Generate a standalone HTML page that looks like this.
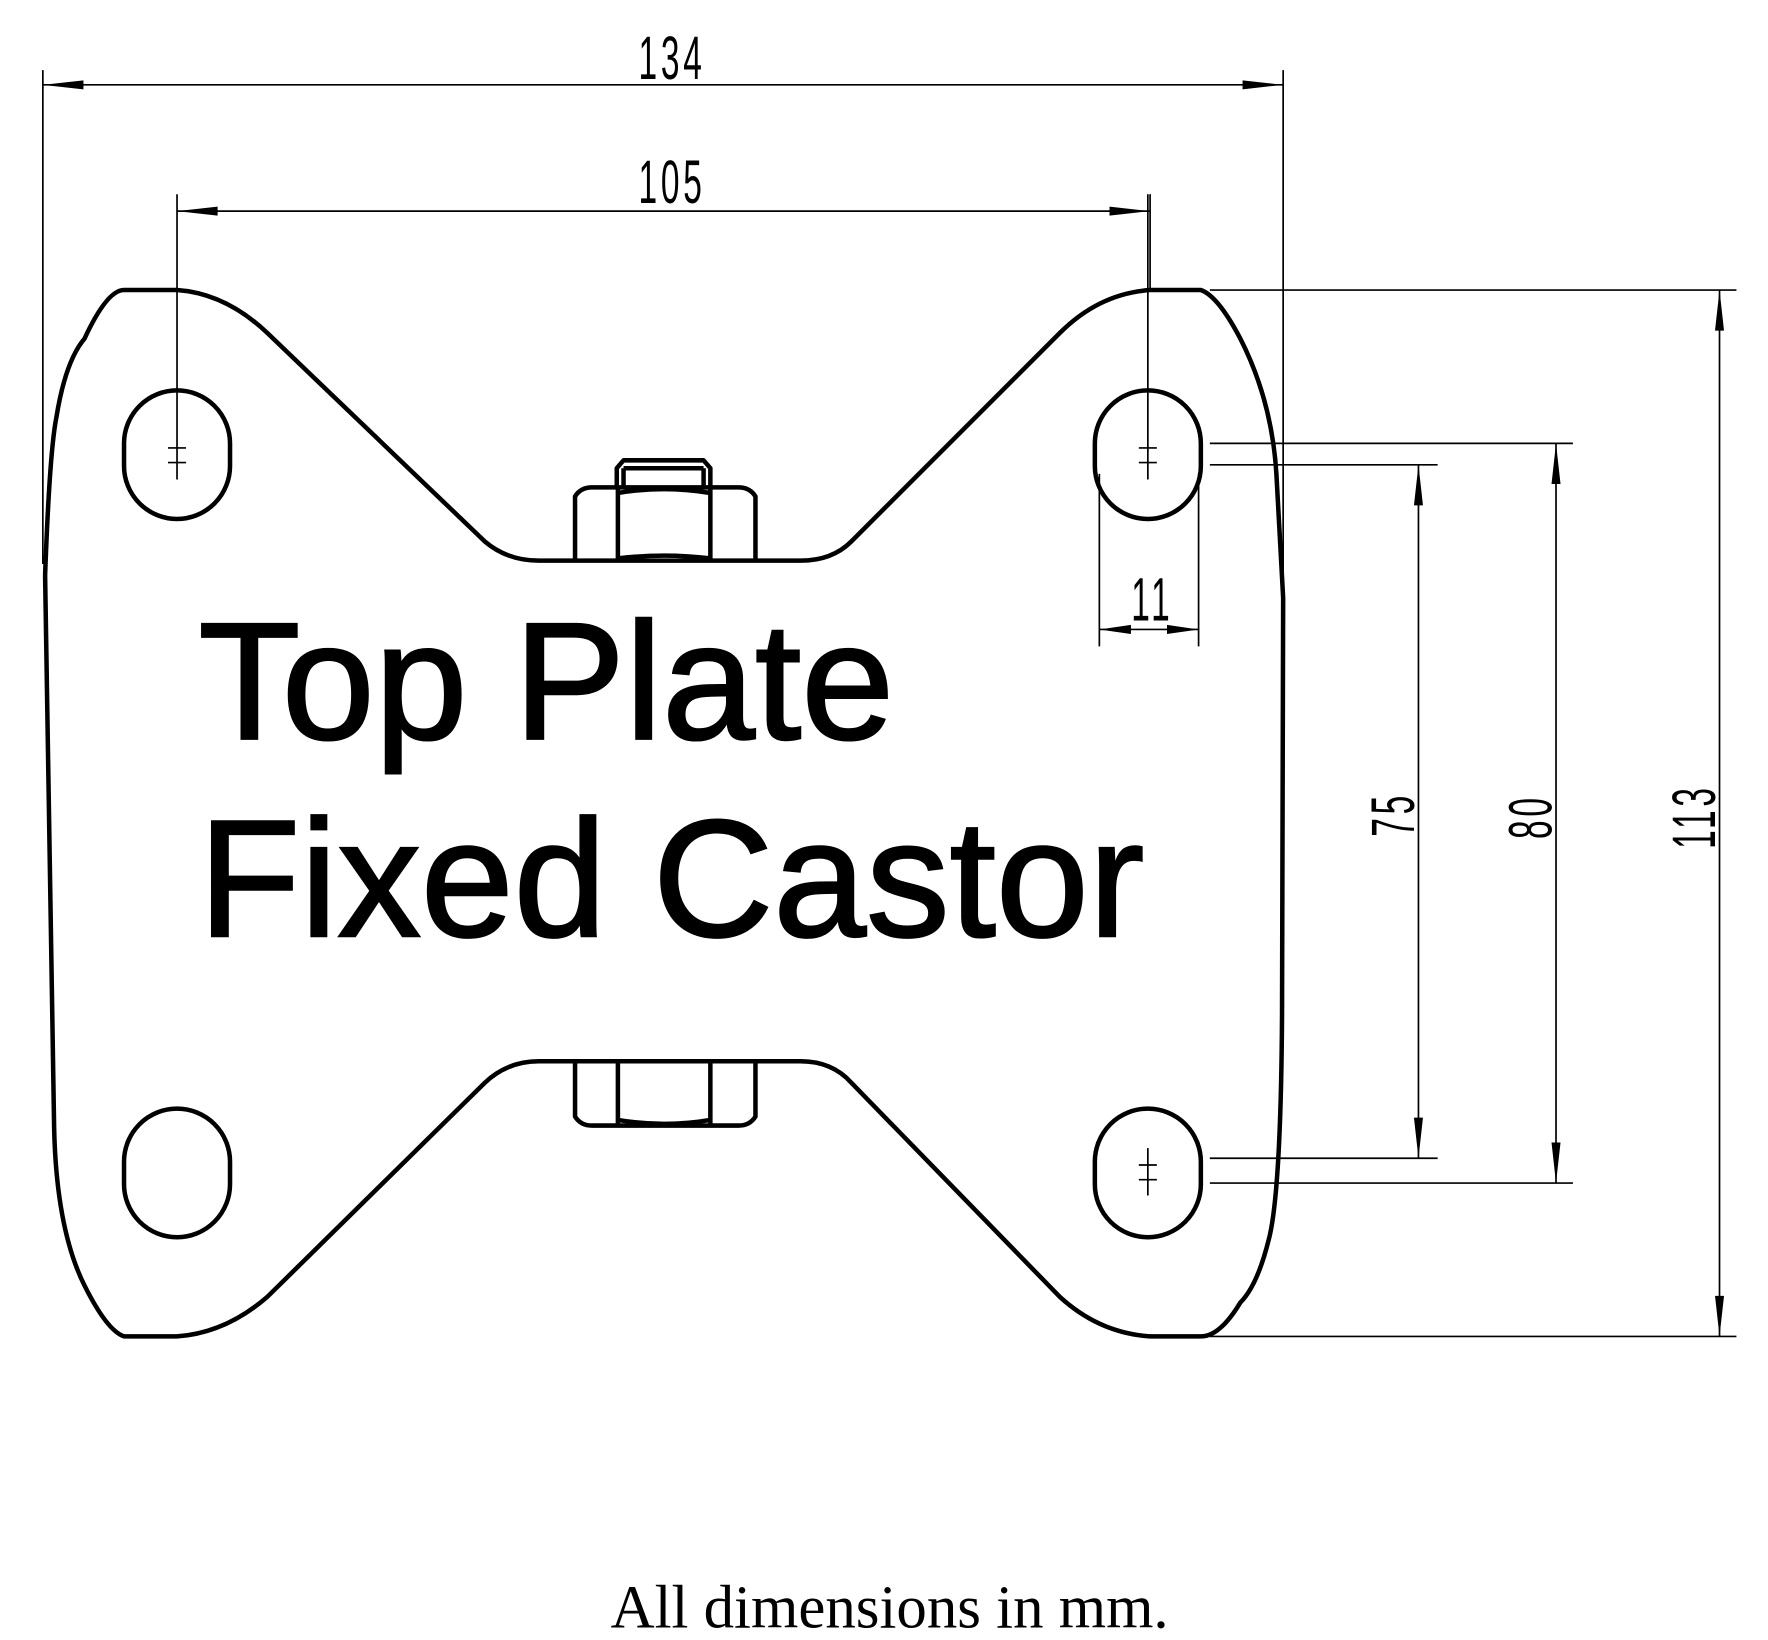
<!DOCTYPE html>
<html><head><style>
html,body{margin:0;padding:0;background:#fff;}
svg{display:block;}
.d{font-family:"Liberation Sans",sans-serif;font-size:54px;letter-spacing:6px;}
</style></head><body>
<svg width="1768" height="1640" viewBox="0 0 1568 1454" xmlns="http://www.w3.org/2000/svg">
<g fill="none" stroke="#000" stroke-linejoin="round">
<path stroke-width="4" d="M110,257 L157,257 Q200,260 237,295 L430,480 Q450,497 478,497 L710,497 Q738,497 755,480 L940,295 Q975,260 1020,257 L1065,257 Q1080,262 1100,300 Q1128,355 1132,420 L1138,530 L1137,900 Q1136,1060 1125,1100 Q1115,1140 1100,1155 Q1082,1185 1065,1185 L1020,1185 Q975,1182 940,1150 L755,960 Q738,941 710,941 L478,941 Q450,941 430,960 L237,1150 Q200,1182 157,1185 L110,1185 Q95,1180 75,1140 Q50,1090 48,1000 L40,510 Q44,400 50,370 Q58,320 75,300 Q95,257 110,257 Z"/>
<g stroke-width="4">
<rect x="110" y="346" width="94" height="114" rx="47" ry="47"/>
<rect x="971" y="346" width="94" height="114" rx="47" ry="47"/>
<rect x="110" y="983" width="94" height="114" rx="47" ry="47"/>
<rect x="971" y="983" width="94" height="114" rx="47" ry="47"/>
</g>
<g stroke-width="1.5">
<line x1="157" y1="172" x2="157" y2="425"/>
<line x1="149" y1="397" x2="165" y2="397"/><line x1="149" y1="410" x2="165" y2="410"/>
<line x1="1018" y1="172" x2="1018" y2="425"/>
<line x1="1010" y1="397" x2="1026" y2="397"/><line x1="1010" y1="410" x2="1026" y2="410"/>
<line x1="1018" y1="1018" x2="1018" y2="1060"/>
<line x1="1010" y1="1033" x2="1026" y2="1033"/><line x1="1010" y1="1046" x2="1026" y2="1046"/>
</g>
<g stroke-width="4">
<path d="M510,497 L510,440 Q515,432 525,432 L655,432 Q665,432 670,440 L670,497"/>
<path d="M548,432 L548,497 M630,432 L630,497"/>
<path d="M548,495 Q589,490 630,495 M548,437 Q589,430 630,437"/>
<path d="M547,432 L547,415 L553,408 L624,408 L630,415 L630,432 M553,415 L624,415 M553,415 L553,432 M624,415 L624,432"/>
<path d="M510,941 L510,990 Q515,998 525,998 L655,998 Q665,998 670,990 L670,941"/>
<path d="M548,941 L548,998 M630,941 L630,998"/>
<path d="M548,993 Q589,1000 630,993"/>
</g>
<g stroke-width="1.5">
<line x1="38" y1="62" x2="38" y2="500"/>
<line x1="1138" y1="62" x2="1138" y2="530"/>
<line x1="38" y1="75" x2="1138" y2="75"/>
<line x1="157" y1="187" x2="1020" y2="187"/>
<line x1="1020" y1="172" x2="1020" y2="257"/>
<line x1="975" y1="420" x2="975" y2="573"/>
<line x1="1063" y1="420" x2="1063" y2="573"/>
<line x1="975" y1="558" x2="1063" y2="558"/>
<line x1="1073" y1="257" x2="1540" y2="257"/>
<line x1="1073" y1="1185" x2="1540" y2="1185"/>
<line x1="1073" y1="393" x2="1395" y2="393"/>
<line x1="1073" y1="1049" x2="1395" y2="1049"/>
<line x1="1073" y1="412" x2="1275" y2="412"/>
<line x1="1073" y1="1027" x2="1275" y2="1027"/>
<line x1="1258" y1="412" x2="1258" y2="1027"/>
<line x1="1380" y1="393" x2="1380" y2="1049"/>
<line x1="1525" y1="257" x2="1525" y2="1185"/>
</g>
</g>
<g fill="#000">
<polygon points="38,75 74,71 74,79"/>
<polygon points="1138,75 1102,71 1102,79"/>
<polygon points="157,187 193,183 193,191"/>
<polygon points="1020,187 984,183 984,191"/>
<polygon points="975,558 1003,554 1003,562"/>
<polygon points="1063,558 1035,554 1035,562"/>
<polygon points="1258,412 1254,448 1262,448"/>
<polygon points="1258,1027 1254,991 1262,991"/>
<polygon points="1380,393 1376,429 1384,429"/>
<polygon points="1380,1049 1376,1013 1384,1013"/>
<polygon points="1525,257 1521,293 1529,293"/>
<polygon points="1525,1185 1521,1149 1529,1149"/>
</g>
<g class="d" fill="#000" stroke="none">
<text transform="translate(596,70) scale(0.55,1)" text-anchor="middle">134</text>
<text transform="translate(596,180) scale(0.55,1)" text-anchor="middle">105</text>
<text transform="translate(1022,550) scale(0.55,1)" text-anchor="middle">11</text>
<text transform="translate(1254,722) rotate(-90) scale(0.55,1)" text-anchor="middle">75</text>
<text transform="translate(1376,724) rotate(-90) scale(0.55,1)" text-anchor="middle">80</text>
<text transform="translate(1521,724) rotate(-90) scale(0.55,1)" text-anchor="middle">113</text>
</g>
<g font-family="'Liberation Sans',sans-serif" font-size="148" fill="#000" stroke="#000" stroke-width="2">
<text x="176" y="655">Top Plate</text>
<text x="176" y="830">Fixed Castor</text>
</g>
<text x="789" y="1443" text-anchor="middle" font-family="'Liberation Serif',serif" font-size="54" fill="#000">All dimensions in mm.</text>
</svg>
</body></html>
